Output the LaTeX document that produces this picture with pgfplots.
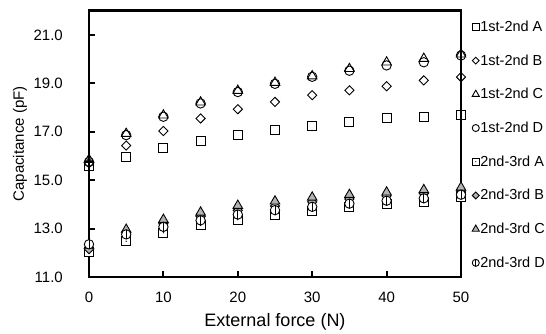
\documentclass[border=0pt]{standalone}
\usepackage{fontspec}
\setmainfont{Liberation Sans}
\usepackage{pgfplots}
\pgfplotsset{compat=1.18}
\pgfdeclareplotmark{sqo}{%
 \pgfpathrectangle{\pgfqpoint{-\pgfplotmarksize}{-\pgfplotmarksize}}{\pgfqpoint{2\pgfplotmarksize}{2\pgfplotmarksize}}%
 \pgfusepathqstroke}
\pgfdeclareplotmark{sqdot}{%
 \pgfpathrectangle{\pgfqpoint{-\pgfplotmarksize}{-\pgfplotmarksize}}{\pgfqpoint{2\pgfplotmarksize}{2\pgfplotmarksize}}%
 \pgfusepathqfillstroke
 \pgfscope\pgfsetfillcolor{black}\pgfpathcircle{\pgfpointorigin}{0.7pt}\pgfusepathqfill\endpgfscope}
\pgfdeclareplotmark{diao}{%
 \pgfpathmoveto{\pgfqpoint{0pt}{\pgfplotmarksize}}\pgfpathlineto{\pgfqpoint{\pgfplotmarksize}{0pt}}%
 \pgfpathlineto{\pgfqpoint{0pt}{-\pgfplotmarksize}}\pgfpathlineto{\pgfqpoint{-\pgfplotmarksize}{0pt}}\pgfpathclose
 \pgfusepathqstroke}
\pgfdeclareplotmark{diaf}{%
 \pgfpathmoveto{\pgfqpoint{0pt}{\pgfplotmarksize}}\pgfpathlineto{\pgfqpoint{\pgfplotmarksize}{0pt}}%
 \pgfpathlineto{\pgfqpoint{0pt}{-\pgfplotmarksize}}\pgfpathlineto{\pgfqpoint{-\pgfplotmarksize}{0pt}}\pgfpathclose
 \pgfusepathqfillstroke}
\pgfdeclareplotmark{phi}{%
 \pgfpathcircle{\pgfpointorigin}{\pgfplotmarksize}\pgfusepathqfillstroke
 \pgfpathmoveto{\pgfqpoint{0pt}{-\pgfplotmarksize}}\pgfpathlineto{\pgfqpoint{0pt}{\pgfplotmarksize}}\pgfusepathqstroke}
\begin{document}
\begin{tikzpicture}
\useasboundingbox (-89pt,-57pt) rectangle (457pt,277pt);
\begin{axis}[
  scale only axis, width=372pt, height=266.3pt,
  xmin=0, xmax=50, ymin=11, ymax=22,
  xtick={0,10,...,50}, ytick={11,13,...,21},
  tick pos=left, tick align=inside,
  major tick length=6pt,
  every tick/.style={black, line width=2pt},
  axis line style={line width=2.7pt, black},
  /pgf/number format/assume math mode=true,
  yticklabel style={/pgf/number format/.cd, fixed, fixed zerofill, precision=1, /tikz/.cd},
  ticklabel style={font=\fontsize{15}{18}\selectfont},
  yticklabel style={anchor=east, inner sep=0pt, xshift=-26pt},
  xticklabel style={anchor=north, inner sep=0pt, yshift=-14.5pt},
  xlabel={External force (N)},
  ylabel={Capacitance (pF)},
  xlabel style={font=\fontsize{18}{21}\selectfont, at={(axis description cs:0.5,0)}, anchor=base, yshift=-49pt, inner sep=0pt},
  ylabel style={font=\fontsize{15}{18}\selectfont, at={(axis description cs:-0.1855,0.5)}, anchor=center},
  clip=false,
  every axis plot/.append style={only marks, black, line width=0.9pt},
  legend style={at={(1,1)}, anchor=north west, xshift=11pt, yshift=-9pt, draw=none, fill=none,
    font=\fontsize{14.5}{17}\selectfont, row sep=19.7pt, inner sep=0pt,
    nodes={inner sep=1pt}},
  legend cell align=left,
  legend image code/.code={\draw[#1] plot coordinates {(0pt,0pt)};},
  legend image post style={every mark/.append style={scale=0.75}},
]
\addplot[mark=sqo, mark size=4.5pt] coordinates {(0,15.6)(5,15.97)(10,16.32)(15,16.62)(20,16.86)(25,17.07)(30,17.23)(35,17.41)(40,17.55)(45,17.62)(50,17.69)};
\addlegendentry{1st-2nd A}
\addplot[mark=diao, mark size=4.6pt] coordinates {(0,15.7)(5,16.43)(10,17.03)(15,17.55)(20,17.93)(25,18.23)(30,18.51)(35,18.71)(40,18.88)(45,19.12)(50,19.26)};
\addlegendentry{1st-2nd B}
\addplot[mark=triangle, mark size=5.5pt] coordinates {(0,15.85)(5,16.92)(10,17.68)(15,18.22)(20,18.7)(25,19.03)(30,19.3)(35,19.6)(40,19.87)(45,20.02)(50,20.2)};
\addlegendentry{1st-2nd C}
\addplot[mark=o, mark size=4.7pt] coordinates {(0,15.75)(5,16.86)(10,17.62)(15,18.17)(20,18.64)(25,18.98)(30,19.27)(35,19.52)(40,19.74)(45,19.87)(50,20.15)};
\addlegendentry{1st-2nd D}
\addplot[mark=sqdot, mark size=4.5pt, mark options={fill=white}] coordinates {(0,12.05)(5,12.48)(10,12.83)(15,13.13)(20,13.37)(25,13.58)(30,13.74)(35,13.9)(40,14.0)(45,14.12)(50,14.3)};
\addlegendentry{2nd-3rd A}
\addplot[mark=diaf, mark size=4.6pt, mark options={fill=gray!60}] coordinates {(0,12.15)(5,12.85)(10,13.2)(15,13.5)(20,13.75)(25,13.93)(30,14.1)(35,14.22)(40,14.35)(45,14.45)(50,14.55)};
\addlegendentry{2nd-3rd B}
\addplot[mark=triangle*, mark size=5.5pt, mark options={fill=gray!60}] coordinates {(0,12.3)(5,12.96)(10,13.37)(15,13.67)(20,13.95)(25,14.13)(30,14.29)(35,14.4)(40,14.5)(45,14.6)(50,14.7)};
\addlegendentry{2nd-3rd C}
\addplot[mark=phi, mark size=4.7pt, mark options={fill=white}] coordinates {(0,12.35)(5,12.76)(10,13.07)(15,13.34)(20,13.58)(25,13.76)(30,13.9)(35,14.03)(40,14.15)(45,14.25)(50,14.4)};
\addlegendentry{2nd-3rd D}
\end{axis}
\end{tikzpicture}
\end{document}
